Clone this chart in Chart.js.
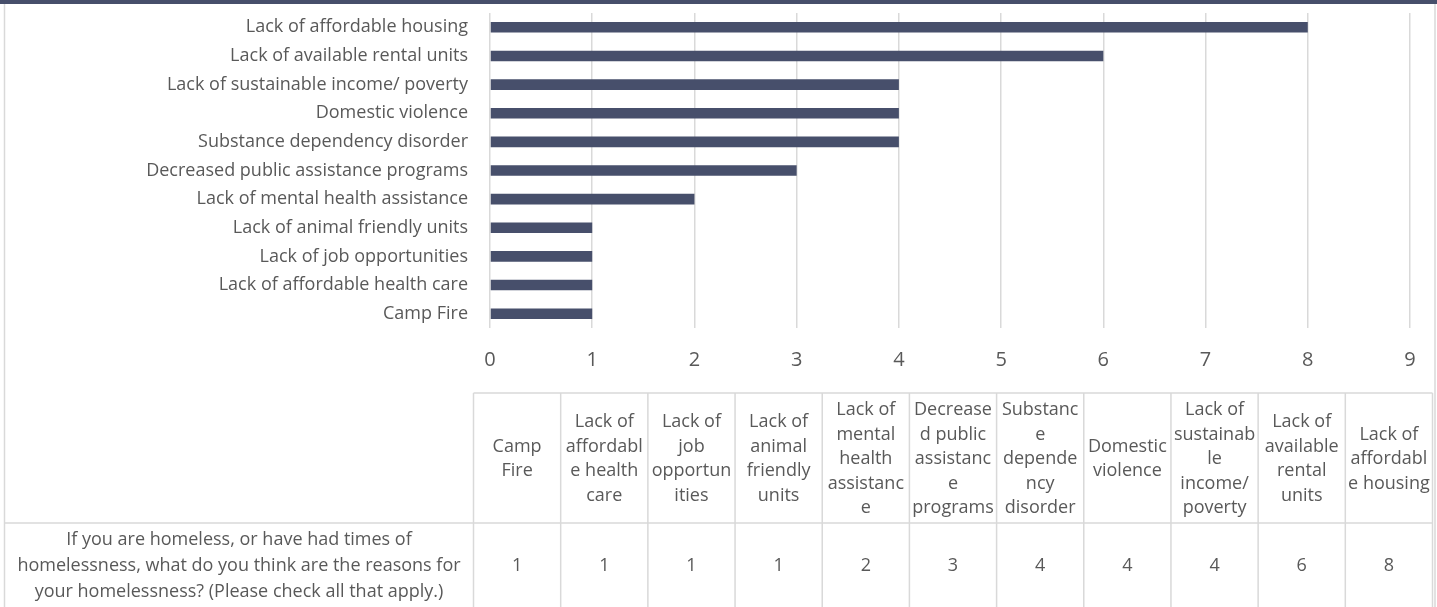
<!DOCTYPE html>
<html>
<head>
<meta charset="utf-8">
<script src="https://cdn.jsdelivr.net/npm/chart.js@4.4.1/dist/chart.umd.min.js"></script>
<style>
  html, body { margin: 0; padding: 0; background: #fff; }
</style>
</head>
<body>
<canvas id="chart" width="1437" height="607"></canvas>
<script>
// reasons, bottom bar first (same order as the table columns)
const categories = [
  "Camp Fire",
  "Lack of affordable health care",
  "Lack of job opportunities",
  "Lack of animal friendly units",
  "Lack of mental health assistance",
  "Decreased public assistance programs",
  "Substance dependency disorder",
  "Domestic violence",
  "Lack of sustainable income/ poverty",
  "Lack of available rental units",
  "Lack of affordable housing"
];
const counts = [1, 1, 1, 1, 2, 3, 4, 4, 4, 6, 8];
const axisMin = 0;
const axisMax = 9;
const rowLabel = [
  "If you are homeless, or have had times of",
  "homelessness, what do you think are the reasons for",
  "your homelessness? (Please check all that apply.)"
];

const FONT = "'Open Sans', sans-serif";
const INK = "#595959";
const RULE = "#d9d9d9";
const BAR = "#474f6b";

const FRAME = { left: 4.5, right: 1435 };
const TABLE = { left: 473.5, right: 1432.5, top: 393, split: 523, headMid: 459, valueY: 566 };
const LINE_H = 24.5;
const ROW_LINE_H = 26;

// excel-style wrap: words first, then break words that are too wide by characters
function wrapCell(ctx, text, maxW) {
  const lines = [];
  let line = "";
  text.split(" ").forEach(word => {
    const tryLine = line ? line + " " + word : word;
    if (ctx.measureText(tryLine).width <= maxW) {
      line = tryLine;
      return;
    }
    if (line) lines.push(line);
    let rest = word;
    while (ctx.measureText(rest).width > maxW) {
      let n = rest.length - 1;
      while (n > 1 && ctx.measureText(rest.slice(0, n)).width > maxW) n--;
      lines.push(rest.slice(0, n));
      rest = rest.slice(n);
    }
    line = rest;
  });
  if (line) lines.push(line);
  return lines;
}

const dataTable = {
  id: "dataTable",
  beforeDraw(chart) {
    const c = chart.ctx;
    c.save();
    c.fillStyle = BAR;
    c.fillRect(0, 0, chart.width, 4);
    c.restore();
  },
  afterDraw(chart) {
    const c = chart.ctx;
    const colW = (TABLE.right - TABLE.left) / categories.length;
    c.save();
    c.strokeStyle = RULE;
    c.lineWidth = 1.5;
    c.beginPath();
    c.moveTo(FRAME.left, 4); c.lineTo(FRAME.left, chart.height);
    c.moveTo(FRAME.right, 4); c.lineTo(FRAME.right, chart.height);
    c.moveTo(TABLE.left, TABLE.top); c.lineTo(TABLE.right, TABLE.top);
    c.moveTo(FRAME.left, TABLE.split); c.lineTo(TABLE.right, TABLE.split);
    for (let i = 0; i <= categories.length; i++) {
      const x = TABLE.left + i * colW;
      c.moveTo(x, TABLE.top); c.lineTo(x, chart.height);
    }
    c.stroke();

    c.font = "18px " + FONT;
    c.fillStyle = INK;
    c.textAlign = "center";
    c.textBaseline = "middle";
    categories.forEach((cat, i) => {
      const cx = TABLE.left + (i + 0.5) * colW;
      const lines = wrapCell(c, cat, colW - 4);
      const y0 = TABLE.headMid - (lines.length - 1) * LINE_H / 2;
      lines.forEach((ln, k) => c.fillText(ln, cx, y0 + k * LINE_H));
      c.fillText(String(counts[i]), cx, TABLE.valueY);
    });
    const lx = (FRAME.left + TABLE.left) / 2;
    rowLabel.forEach((ln, k) => c.fillText(ln, lx, TABLE.valueY + (k - 1) * ROW_LINE_H));
    c.restore();
  }
};

new Chart(document.getElementById("chart"), {
  type: "bar",
  data: {
    labels: categories,
    datasets: [{
      data: counts,
      backgroundColor: BAR,
      barPercentage: 0.37,
      categoryPercentage: 1
    }]
  },
  options: {
    indexAxis: "y",
    responsive: false,
    animation: false,
    layout: { padding: { top: 13, right: 27, left: 0, bottom: 0 } },
    plugins: { legend: { display: false }, tooltip: { enabled: false } },
    scales: {
      x: {
        min: axisMin,
        max: axisMax,
        ticks: { stepSize: 1, color: INK, font: { family: FONT, size: 20 }, padding: 20 },
        grid: { color: RULE, lineWidth: 1.5, drawTicks: false },
        border: { display: false },
        afterFit: s => { s.height = 607 - 328; s.paddingLeft = 0; s.paddingRight = 0; }
      },
      y: {
        reverse: true,
        ticks: { color: INK, font: { family: FONT, size: 18 }, padding: 22, autoSkip: false },
        grid: { display: false, drawTicks: false },
        border: { display: false },
        afterFit: s => { s.width = 490; s.paddingTop = 0; s.paddingBottom = 0; }
      }
    }
  },
  plugins: [dataTable]
});
</script>
</body>
</html>
